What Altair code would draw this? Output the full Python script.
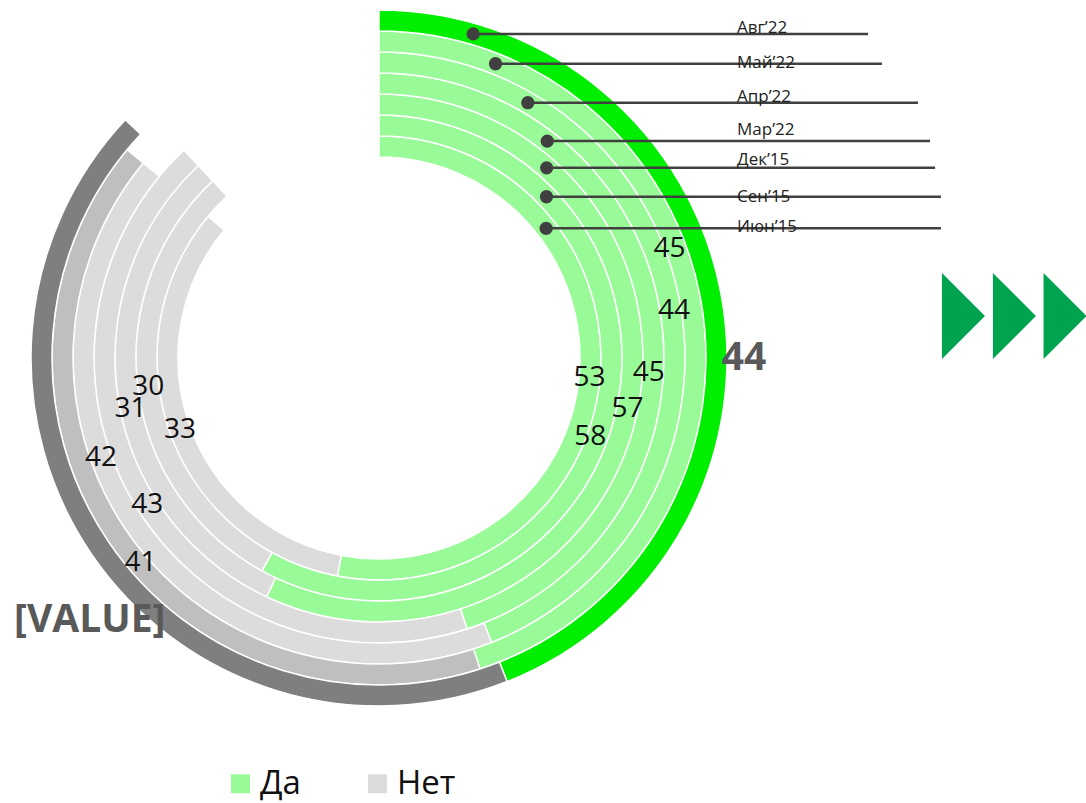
import math
import altair as alt
import pandas as pd

# ---------------- data ----------------
months = ["Июн\u201915", "Сен\u201915", "Дек\u201915", "Мар\u201922", "Апр\u201922", "Май\u201922", "Авг\u201922"]
da = [53, 58, 57, 45, 44, 45, 44]          # "Да"
net = [33, 30, 31, 43, 42, 41, 43]         # "Нет"
net_text = ["33", "30", "31", "43", "42", "41", "[VALUE]"]

# label placement tweaks (percent of circle / ring units), as in the original
da_nudge = [0, 1.7, -0.3, 3.4, 0.5, -3.2, 3.0]
da_roff = [0, -0.33, 0, -0.2, 0.15, -0.3, 1.31]
net_nudge = [0, 0, -0.7, -0.5, 4.5, -1.8, -2.2]
net_roff = [0, 0, 0, 0, 0, -0.1, 2.5]

# leader annotations: where the dot sits on each ring (percent), line end (ring units)
leader_pct = [14.5, 12.8, 11.5, 10.5, 8.4, 6.0, 4.5]
leader_end = [26.76, 26.76, 26.48, 26.24, 25.67, 23.95, 23.29]
month_dy = [4, 5, -3, -6, -1, 4, -1]

# ---------------- layout ----------------
W, H = 1086, 803
CX, CY = 379, 358
U = 21.0                 # pixels per ring unit
HOLE = 201 / U           # inner radius of the innermost ring
LABEL_X = (737 - CX) / U
arrow_x = [27.83, 30.26, 32.67]
arrow_y = 2.0

keys = ["Да", "Нет", "Нет_5", "Да_6", "Нет_6"]
colors = ["#98FB98", "#DCDCDC", "#BFBFBF", "#00EE00", "#7F7F7F"]

rows = []
for i, m in enumerate(months):
    kd = "Да_6" if i == 6 else "Да"
    kn = "Нет_6" if i == 6 else ("Нет_5" if i == 5 else "Нет")
    rows.append(dict(month=m, key=kd, t0=0, t1=da[i], r0=HOLE + i, r1=HOLE + i + 1, cx=0, cy=0))
    rows.append(dict(month=m, key=kn, t0=da[i], t1=da[i] + net[i], r0=HOLE + i, r1=HOLE + i + 1, cx=0, cy=0))
arc_df = pd.DataFrame(rows)

lrows = []
for i, m in enumerate(months):
    kind = "big" if i == 6 else "n"
    lrows.append(dict(text=str(da[i]), t=da[i] / 2 + da_nudge[i], r=HOLE + i + 0.5 + da_roff[i], kind=kind, cx=0, cy=0))
    lrows.append(dict(text=net_text[i], t=da[i] + net[i] / 2 + net_nudge[i], r=HOLE + i + 0.5 + net_roff[i], kind=kind, cx=0, cy=0))
lab_df = pd.DataFrame(lrows)

drows = []
for i, m in enumerate(months):
    R = HOLE + i + 0.5
    a = leader_pct[i] / 100 * 2 * math.pi
    x, y = R * math.sin(a), R * math.cos(a)
    drows.append(dict(month=m, lx=x, ly=y, lx2=leader_end[i], tx=LABEL_X, ty=y - month_dy[i] / U))
lead_df = pd.DataFrame(drows)

arr_df = pd.DataFrame({"ax": arrow_x, "ay": [arrow_y] * 3})

# ---------------- scales ----------------
xs = alt.Scale(domain=[-CX / U, (W - CX) / U], range=[0, W], nice=False, zero=False)
ys = alt.Scale(domain=[-(H - CY) / U, CY / U], range=[H, 0], nice=False, zero=False)
ts = alt.Scale(domain=[0, 100], range=[0, 2 * math.pi])
rs = alt.Scale(type="linear", domain=[0, 20], range=[0, 20 * U], zero=True, nice=False)

arcs = alt.Chart(arc_df).mark_arc(stroke="white", strokeWidth=1.5).encode(
    x=alt.X("cx:Q", scale=xs, axis=None),
    y=alt.Y("cy:Q", scale=ys, axis=None),
    theta=alt.Theta("t0:Q", scale=ts, stack=None),
    theta2="t1:Q",
    radius=alt.Radius("r1:Q", scale=rs),
    radius2="r0:Q",
    color=alt.Color(
        "key:N",
        scale=alt.Scale(domain=keys, range=colors),
        legend=alt.Legend(
            values=["Да", "Нет"], orient="none", legendX=224, legendY=767,
            direction="horizontal", title=None, symbolType="square", symbolSize=361,
            symbolStrokeWidth=0, symbolOpacity=1, labelFont="Open Sans", labelFontSize=33,
            labelColor="#111111", labelOffset=3, columnPadding=60, padding=0,
        ),
    ),
)

def text_layer(kind, size, weight, color):
    return alt.Chart(lab_df[lab_df["kind"] == kind]).mark_text(
        font="Open Sans", fontSize=size, fontWeight=weight, color=color,
        align="center", baseline="middle",
    ).encode(
        x=alt.X("cx:Q", scale=xs, axis=None),
        y=alt.Y("cy:Q", scale=ys, axis=None),
        theta=alt.Theta("t:Q", scale=ts, stack=None),
        radius=alt.Radius("r:Q", scale=rs),
        text="text:N",
    )

lab_norm = text_layer("n", 28, "normal", "#111111")
lab_big = text_layer("big", 39, "bold", "#595959")

lines = alt.Chart(lead_df).mark_rule(color="#404040", strokeWidth=2.5).encode(
    x=alt.X("lx:Q", scale=xs, axis=None),
    x2="lx2:Q",
    y=alt.Y("ly:Q", scale=ys, axis=None),
)
dots = alt.Chart(lead_df).mark_circle(size=177, color="#404040", opacity=1).encode(
    x=alt.X("lx:Q", scale=xs, axis=None),
    y=alt.Y("ly:Q", scale=ys, axis=None),
)
mtext = alt.Chart(lead_df).mark_text(
    align="left", baseline="alphabetic", font="Open Sans", fontSize=17, color="#222222"
).encode(
    x=alt.X("tx:Q", scale=xs, axis=None),
    y=alt.Y("ty:Q", scale=ys, axis=None),
    text="month:N",
)
arrows = alt.Chart(arr_df).mark_point(
    shape="M -0.5 -1 L 0.5 0 L -0.5 1 Z", filled=True, size=7396,
    color="#00A44F", opacity=1, strokeWidth=0,
).encode(
    x=alt.X("ax:Q", scale=xs, axis=None),
    y=alt.Y("ay:Q", scale=ys, axis=None),
)

chart = alt.layer(arcs, lab_norm, lab_big, lines, dots, mtext, arrows).properties(
    width=W, height=H, padding=0, autosize=alt.AutoSizeParams(type="none"),
    background="white",
).configure_view(stroke=None)

chart.save("out.html", embed_options={"renderer": "svg", "actions": False})
